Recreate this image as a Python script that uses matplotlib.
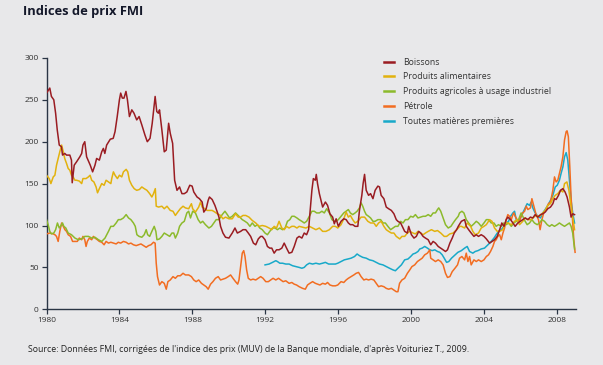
import matplotlib
matplotlib.use("Agg")
import matplotlib.pyplot as plt

# ---------------- data ----------------
boissons_x = [1980.0, 1980.18, 1980.27, 1980.4, 1980.5, 1980.59, 1980.7, 1980.82, 1980.88, 1981.0, 1981.1, 1981.28,
              1981.37, 1981.41, 1981.52, 1981.65, 1981.83, 1981.93, 1982.0, 1982.1, 1982.2, 1982.4, 1982.53, 1982.66,
              1982.75, 1982.9, 1983.03, 1983.12, 1983.2, 1983.3, 1983.5, 1983.66, 1983.76, 1983.88, 1984.0, 1984.07,
              1984.16, 1984.25, 1984.36, 1984.44, 1984.55, 1984.68, 1984.8, 1984.95, 1985.08, 1985.23, 1985.4, 1985.53,
              1985.68, 1985.8, 1985.96, 1986.05, 1986.14, 1986.2, 1986.33, 1986.46, 1986.57, 1986.7, 1986.79, 1986.92,
              1987.03, 1987.16, 1987.3, 1987.43, 1987.56, 1987.7, 1987.86, 1987.99, 1988.08, 1988.26, 1988.39, 1988.54,
              1988.63, 1988.76, 1988.87, 1988.94, 1989.09, 1989.24, 1989.37, 1989.46, 1989.55, 1989.68, 1989.82, 1990.01,
              1990.19, 1990.34, 1990.47, 1990.65, 1990.78, 1990.93, 1991.07, 1991.2, 1991.35, 1991.48, 1991.62, 1991.75,
              1991.84, 1991.99, 1992.12, 1992.25, 1992.36, 1992.49, 1992.62, 1992.76, 1992.91, 1993.04, 1993.17, 1993.31,
              1993.46, 1993.59, 1993.74, 1993.86, 1994.01, 1994.14, 1994.27, 1994.38, 1994.45, 1994.56, 1994.64, 1994.75,
              1994.8, 1994.87, 1994.97, 1995.06, 1995.15, 1995.3, 1995.42, 1995.55, 1995.7, 1995.79, 1995.89, 1996.01,
              1996.16, 1996.31, 1996.44, 1996.56, 1996.67, 1996.8, 1996.93, 1997.08, 1997.17, 1997.3, 1997.37, 1997.45,
              1997.54, 1997.67, 1997.78, 1997.91, 1998.03, 1998.18, 1998.27, 1998.36, 1998.51, 1998.64, 1998.77, 1998.92,
              1999.06, 1999.19, 1999.28, 1999.43, 1999.56, 1999.65, 1999.8, 1999.87, 2000.02, 2000.16, 2000.29, 2000.42,
              2000.53, 2000.66, 2000.79, 2000.94, 2001.08, 2001.21, 2001.34, 2001.49, 2001.63, 2001.76, 2001.89, 2002.0,
              2002.13, 2002.26, 2002.37, 2002.5, 2002.59, 2002.76, 2002.94, 2003.03, 2003.16, 2003.3, 2003.45, 2003.58,
              2003.7, 2003.85, 2004.0, 2004.13, 2004.31, 2004.44, 2004.58, 2004.73, 2004.86, 2004.98, 2005.1, 2005.22,
              2005.31, 2005.46, 2005.59, 2005.71, 2005.86, 2006.0, 2006.13, 2006.26, 2006.41, 2006.55, 2006.68, 2006.81,
              2006.96, 2007.1, 2007.23, 2007.36, 2007.5, 2007.65, 2007.78, 2007.87, 2007.96, 2008.09, 2008.2, 2008.33,
              2008.45, 2008.56, 2008.69, 2008.78, 2008.87, 2008.97]
boissons_y = [258, 264, 254, 250, 234, 214, 196, 194, 184, 186, 184, 184,
              178, 151, 172, 176, 182, 186, 196, 200, 182, 172, 164, 172,
              180, 178, 188, 192, 186, 196, 203, 204, 212, 230, 250, 258,
              252, 252, 260, 250, 230, 238, 234, 226, 230, 220, 208, 200,
              204, 222, 254, 236, 234, 238, 214, 188, 190, 222, 210, 198,
              154, 142, 146, 138, 138, 140, 148, 147, 140, 134, 132, 128,
              116, 120, 130, 134, 131, 124, 116, 110, 99, 91, 86, 85,
              91, 97, 91, 93, 95, 95, 91, 87, 79, 77, 84, 87,
              87, 83, 75, 73, 73, 67, 71, 71, 73, 79, 73, 67,
              68, 75, 85, 87, 85, 91, 89, 95, 114, 142, 156, 154,
              161, 150, 138, 130, 122, 128, 124, 114, 110, 102, 108, 99,
              105, 108, 107, 103, 101, 101, 99, 99, 118, 136, 150, 161,
              142, 136, 138, 132, 142, 147, 146, 136, 132, 122, 120, 118,
              114, 107, 105, 103, 97, 93, 91, 99, 89, 85, 87, 93,
              91, 87, 85, 83, 77, 81, 79, 75, 73, 71, 69, 71,
              79, 85, 91, 95, 99, 105, 107, 99, 95, 91, 87, 89,
              87, 89, 87, 84, 79, 81, 83, 87, 95, 103, 99, 107,
              110, 107, 103, 99, 103, 105, 107, 109, 107, 110, 109, 113,
              110, 113, 114, 116, 120, 122, 126, 132, 131, 136, 142, 144,
              140, 134, 122, 110, 114, 113]

alim_x = [1980.0, 1980.15, 1980.24, 1980.37, 1980.46, 1980.55, 1980.64, 1980.73, 1980.83, 1980.92, 1981.0, 1981.1,
          1981.19, 1981.28, 1981.37, 1981.46, 1981.56, 1981.65, 1981.8, 1981.93, 1982.0, 1982.17, 1982.3, 1982.39,
          1982.48, 1982.6, 1982.72, 1982.8, 1982.9, 1983.03, 1983.16, 1983.27, 1983.4, 1983.53, 1983.58, 1983.67,
          1983.76, 1983.89, 1984.0, 1984.13, 1984.22, 1984.37, 1984.46, 1984.55, 1984.68, 1984.81, 1984.95, 1985.1,
          1985.23, 1985.36, 1985.51, 1985.66, 1985.78, 1985.87, 1985.97, 1986.02, 1986.15, 1986.33, 1986.46, 1986.61,
          1986.79, 1986.94, 1987.07, 1987.2, 1987.34, 1987.49, 1987.62, 1987.8, 1987.95, 1988.02, 1988.17, 1988.35,
          1988.45, 1988.54, 1988.69, 1988.81, 1988.94, 1989.09, 1989.24, 1989.37, 1989.55, 1989.68, 1989.82, 1990.01,
          1990.19, 1990.37, 1990.52, 1990.65, 1990.78, 1990.93, 1991.11, 1991.29, 1991.48, 1991.66, 1991.84, 1992.03,
          1992.21, 1992.36, 1992.49, 1992.62, 1992.76, 1992.91, 1993.04, 1993.17, 1993.31, 1993.46, 1993.59, 1993.74,
          1993.86, 1994.05, 1994.23, 1994.42, 1994.6, 1994.78, 1994.97, 1995.15, 1995.33, 1995.52, 1995.7, 1995.85,
          1995.98, 1996.16, 1996.31, 1996.44, 1996.56, 1996.67, 1996.8, 1996.93, 1997.08, 1997.26, 1997.45, 1997.63,
          1997.78, 1997.96, 1998.09, 1998.22, 1998.36, 1998.51, 1998.64, 1998.77, 1998.92, 1999.06, 1999.19, 1999.38,
          1999.5, 1999.65, 1999.8, 1999.93, 2000.11, 2000.24, 2000.38, 2000.53, 2000.66, 2000.79, 2000.94, 2001.12,
          2001.3, 2001.45, 2001.63, 2001.82, 2001.95, 2002.13, 2002.31, 2002.5, 2002.68, 2002.76, 2002.94, 2003.08,
          2003.27, 2003.39, 2003.52, 2003.7, 2003.85, 2004.0, 2004.13, 2004.31, 2004.44, 2004.58, 2004.73, 2004.86,
          2005.04, 2005.17, 2005.31, 2005.5, 2005.68, 2005.82, 2005.95, 2006.13, 2006.26, 2006.41, 2006.59, 2006.74,
          2006.86, 2007.05, 2007.18, 2007.36, 2007.5, 2007.65, 2007.78, 2007.91, 2008.05, 2008.2, 2008.33, 2008.42,
          2008.55, 2008.66, 2008.78, 2008.87, 2008.97]
alim_y = [160, 156, 150, 158, 160, 172, 180, 188, 196, 188, 180, 174,
          168, 166, 160, 158, 154, 154, 153, 150, 156, 156, 158, 160,
          154, 152, 146, 139, 144, 150, 148, 154, 152, 150, 156, 164,
          160, 156, 160, 158, 164, 167, 164, 154, 148, 144, 142, 143,
          146, 144, 142, 138, 134, 138, 144, 123, 122, 123, 120, 123,
          118, 117, 112, 116, 120, 123, 121, 120, 126, 120, 116, 122,
          128, 122, 120, 118, 118, 118, 116, 114, 112, 108, 110, 108,
          108, 114, 110, 110, 112, 112, 110, 106, 103, 99, 100, 99,
          97, 95, 99, 97, 105, 97, 95, 99, 97, 99, 99, 97,
          99, 98, 97, 99, 97, 95, 97, 93, 93, 95, 99, 99,
          97, 101, 108, 116, 110, 112, 107, 103, 105, 110, 110, 105,
          103, 103, 99, 103, 105, 99, 95, 93, 91, 91, 87, 84,
          87, 87, 91, 93, 91, 90, 93, 91, 89, 91, 93, 95,
          93, 94, 91, 87, 87, 90, 91, 95, 99, 99, 97, 103,
          99, 93, 89, 91, 97, 99, 101, 107, 105, 97, 93, 93,
          95, 103, 103, 101, 105, 107, 101, 105, 109, 107, 107, 110,
          112, 111, 114, 118, 124, 126, 132, 136, 138, 142, 140, 150,
          152, 142, 122, 110, 95]

agri_x = [1980.0, 1980.09, 1980.18, 1980.27, 1980.4, 1980.5, 1980.6, 1980.7, 1980.77, 1980.88, 1980.95, 1981.06,
          1981.19, 1981.37, 1981.56, 1981.75, 1981.93, 1982.1, 1982.3, 1982.48, 1982.66, 1982.85, 1983.03, 1983.21,
          1983.4, 1983.53, 1983.67, 1983.82, 1983.94, 1984.07, 1984.22, 1984.37, 1984.5, 1984.63, 1984.77, 1984.87,
          1984.96, 1985.08, 1985.23, 1985.36, 1985.47, 1985.55, 1985.66, 1985.78, 1985.91, 1986.0, 1986.06, 1986.2,
          1986.33, 1986.46, 1986.61, 1986.76, 1986.88, 1986.98, 1987.07, 1987.2, 1987.3, 1987.43, 1987.56, 1987.7,
          1987.8, 1987.9, 1988.02, 1988.17, 1988.32, 1988.45, 1988.57, 1988.72, 1988.91, 1989.05, 1989.18, 1989.31,
          1989.46, 1989.64, 1989.79, 1989.92, 1990.04, 1990.19, 1990.37, 1990.56, 1990.74, 1990.89, 1991.02, 1991.16,
          1991.29, 1991.44, 1991.57, 1991.7, 1991.84, 1991.99, 1992.12, 1992.25, 1992.4, 1992.54, 1992.67, 1992.8,
          1992.95, 1993.09, 1993.22, 1993.35, 1993.46, 1993.59, 1993.74, 1993.86, 1994.01, 1994.14, 1994.27, 1994.42,
          1994.56, 1994.69, 1994.82, 1994.97, 1995.11, 1995.24, 1995.37, 1995.52, 1995.66, 1995.79, 1995.89, 1996.01,
          1996.16, 1996.31, 1996.44, 1996.56, 1996.67, 1996.8, 1996.93, 1997.04, 1997.17, 1997.26, 1997.35, 1997.45,
          1997.54, 1997.67, 1997.78, 1997.91, 1998.03, 1998.18, 1998.33, 1998.46, 1998.59, 1998.73, 1998.88, 1999.01,
          1999.14, 1999.28, 1999.43, 1999.56, 1999.69, 1999.83, 1999.98, 2000.11, 2000.24, 2000.38, 2000.53, 2000.66,
          2000.79, 2000.94, 2001.08, 2001.21, 2001.34, 2001.45, 2001.52, 2001.63, 2001.76, 2001.89, 2002.04, 2002.19,
          2002.31, 2002.44, 2002.59, 2002.66, 2002.79, 2002.9, 2003.03, 2003.16, 2003.3, 2003.45, 2003.58, 2003.7,
          2003.85, 2004.0, 2004.13, 2004.25, 2004.4, 2004.55, 2004.67, 2004.8, 2004.95, 2005.09, 2005.22, 2005.35,
          2005.5, 2005.64, 2005.77, 2005.9, 2006.04, 2006.13, 2006.26, 2006.37, 2006.5, 2006.63, 2006.77, 2006.92,
          2007.05, 2007.18, 2007.32, 2007.47, 2007.6, 2007.72, 2007.87, 2008.02, 2008.14, 2008.27, 2008.42, 2008.56,
          2008.69, 2008.78, 2008.87, 2008.97]
agri_y = [107, 101, 93, 90, 91, 95, 103, 97, 99, 103, 99, 97,
          91, 89, 85, 83, 84, 87, 87, 85, 86, 83, 81, 85,
          93, 99, 99, 103, 107, 107, 109, 113, 109, 107, 103, 99,
          89, 87, 86, 89, 95, 89, 87, 93, 99, 93, 83, 84,
          87, 91, 89, 87, 91, 91, 85, 91, 99, 103, 105, 115,
          117, 109, 117, 115, 107, 103, 105, 101, 97, 99, 103, 107,
          107, 113, 117, 113, 109, 111, 115, 111, 107, 105, 103, 99,
          103, 99, 101, 97, 95, 91, 89, 93, 97, 97, 95, 97,
          95, 97, 105, 107, 111, 111, 109, 107, 105, 103, 105, 111,
          117, 117, 115, 115, 117, 115, 120, 115, 107, 105, 105, 107,
          111, 115, 117, 119, 115, 113, 115, 117, 121, 127, 123, 117,
          113, 111, 109, 105, 105, 107, 107, 103, 103, 99, 95, 97,
          99, 99, 105, 103, 107, 107, 111, 110, 113, 109, 110, 111,
          111, 113, 111, 115, 115, 119, 121, 117, 109, 101, 97, 99,
          103, 107, 111, 115, 117, 115, 107, 103, 99, 102, 105, 103,
          99, 103, 107, 107, 103, 103, 99, 101, 99, 103, 101, 103,
          99, 103, 105, 107, 115, 111, 105, 101, 103, 107, 103, 101,
          103, 107, 105, 101, 99, 101, 99, 101, 103, 101, 99, 101,
          103, 99, 91, 72]

petrole_x = [1980.0, 1980.18, 1980.37, 1980.46, 1980.55, 1980.64, 1980.73, 1980.83, 1980.92, 1981.01, 1981.1, 1981.19,
             1981.32, 1981.43, 1981.56, 1981.69, 1981.8, 1981.93, 1982.0, 1982.1, 1982.17, 1982.24, 1982.35, 1982.48,
             1982.57, 1982.66, 1982.79, 1982.9, 1983.03, 1983.16, 1983.27, 1983.4, 1983.53, 1983.67, 1983.82, 1983.94,
             1984.07, 1984.22, 1984.37, 1984.5, 1984.63, 1984.77, 1984.92, 1985.05, 1985.18, 1985.32, 1985.47, 1985.6,
             1985.73, 1985.87, 1985.96, 1986.02, 1986.09, 1986.2, 1986.33, 1986.46, 1986.57, 1986.66, 1986.79, 1986.94,
             1987.07, 1987.2, 1987.34, 1987.49, 1987.62, 1987.8, 1987.95, 1988.08, 1988.21, 1988.35, 1988.5, 1988.63,
             1988.76, 1988.87, 1989.0, 1989.13, 1989.27, 1989.42, 1989.55, 1989.68, 1989.82, 1989.97, 1990.1, 1990.23,
             1990.37, 1990.49, 1990.56, 1990.65, 1990.74, 1990.82, 1990.89, 1990.98, 1991.07, 1991.2, 1991.33, 1991.48,
             1991.62, 1991.75, 1991.88, 1992.03, 1992.17, 1992.3, 1992.43, 1992.58, 1992.73, 1992.85, 1992.98, 1993.13,
             1993.31, 1993.46, 1993.59, 1993.72, 1993.86, 1994.05, 1994.2, 1994.32, 1994.45, 1994.6, 1994.75, 1994.87,
             1995.0, 1995.15, 1995.3, 1995.42, 1995.55, 1995.7, 1995.85, 1995.98, 1996.16, 1996.31, 1996.44, 1996.56,
             1996.71, 1996.86, 1996.99, 1997.12, 1997.26, 1997.41, 1997.54, 1997.67, 1997.81, 1997.96, 1998.09, 1998.22,
             1998.36, 1998.51, 1998.64, 1998.77, 1998.92, 1999.06, 1999.19, 1999.28, 1999.37, 1999.5, 1999.65, 1999.8,
             1999.93, 2000.05, 2000.2, 2000.35, 2000.48, 2000.61, 2000.75, 2000.9, 2001.03, 2001.08, 2001.21, 2001.34,
             2001.49, 2001.63, 2001.76, 2001.89, 2002.0, 2002.13, 2002.26, 2002.41, 2002.55, 2002.66, 2002.79, 2002.94,
             2003.03, 2003.12, 2003.21, 2003.3, 2003.45, 2003.58, 2003.7, 2003.85, 2004.0, 2004.13, 2004.25, 2004.36,
             2004.49, 2004.58, 2004.67, 2004.76, 2004.86, 2004.95, 2005.04, 2005.13, 2005.22, 2005.31, 2005.4, 2005.5,
             2005.59, 2005.64, 2005.71, 2005.82, 2005.95, 2006.04, 2006.13, 2006.23, 2006.32, 2006.41, 2006.55, 2006.63,
             2006.74, 2006.86, 2006.99, 2007.08, 2007.18, 2007.28, 2007.41, 2007.54, 2007.65, 2007.78, 2007.87, 2007.96,
             2008.05, 2008.14, 2008.23, 2008.33, 2008.42, 2008.51, 2008.56, 2008.63, 2008.71, 2008.78, 2008.86, 2008.93,
             2009.0]
petrole_y = [90, 91, 90, 89, 87, 81, 93, 103, 99, 95, 93, 89,
             87, 81, 81, 81, 85, 83, 87, 83, 75, 81, 85, 83,
             87, 85, 83, 81, 80, 77, 81, 79, 80, 79, 78, 80,
             79, 81, 80, 78, 79, 77, 76, 77, 78, 76, 74, 76,
             77, 80, 79, 55, 39, 29, 33, 31, 24, 33, 35, 39,
             37, 40, 40, 43, 41, 41, 39, 35, 33, 35, 31, 29,
             27, 24, 30, 33, 37, 39, 35, 36, 37, 39, 41, 37,
             33, 30, 35, 51, 67, 70, 63, 47, 37, 35, 36, 35,
             37, 39, 37, 33, 33, 35, 37, 35, 37, 35, 33, 34,
             31, 32, 30, 29, 27, 25, 24, 29, 31, 33, 31, 30,
             29, 31, 30, 32, 29, 28, 28, 29, 33, 32, 35, 37,
             39, 41, 43, 44, 39, 35, 36, 35, 36, 35, 31, 27,
             28, 27, 25, 24, 25, 23, 21, 21, 31, 35, 37, 43,
             47, 51, 53, 57, 59, 61, 65, 67, 71, 61, 59, 57,
             59, 57, 53, 43, 38, 39, 45, 49, 53, 61, 63, 59,
             67, 57, 63, 53, 59, 57, 59, 57, 59, 63, 65, 69,
             75, 81, 83, 87, 89, 83, 91, 97, 107, 113, 111, 107,
             113, 115, 111, 107, 105, 111, 115, 117, 123, 119, 121, 132,
             123, 113, 107, 95, 107, 115, 119, 126, 128, 142, 158, 152,
             154, 162, 170, 182, 202, 212, 213, 206, 170, 134, 107, 83,
             68]

toutes_x = [1991.99, 1992.21, 1992.4, 1992.58, 1992.67, 1992.8, 1992.95, 1993.13, 1993.31, 1993.5, 1993.68, 1993.86,
            1994.01, 1994.14, 1994.27, 1994.42, 1994.6, 1994.78, 1994.97, 1995.15, 1995.3, 1995.48, 1995.7, 1995.85,
            1995.98, 1996.16, 1996.34, 1996.53, 1996.71, 1996.9, 1997.04, 1997.17, 1997.35, 1997.54, 1997.72, 1997.91,
            1998.09, 1998.27, 1998.46, 1998.64, 1998.82, 1999.01, 1999.14, 1999.28, 1999.47, 1999.65, 1999.83, 1999.98,
            2000.11, 2000.24, 2000.38, 2000.48, 2000.61, 2000.75, 2000.9, 2001.03, 2001.16, 2001.3, 2001.45, 2001.58,
            2001.71, 2001.82, 2001.95, 2002.07, 2002.22, 2002.37, 2002.57, 2002.76, 2002.94, 2003.08, 2003.21, 2003.39,
            2003.52, 2003.67, 2003.85, 2004.03, 2004.22, 2004.4, 2004.55, 2004.67, 2004.8, 2004.95, 2005.09, 2005.22,
            2005.35, 2005.46, 2005.59, 2005.68, 2005.77, 2005.9, 2006.0, 2006.13, 2006.26, 2006.37, 2006.5, 2006.59,
            2006.68, 2006.81, 2006.96, 2007.1, 2007.23, 2007.36, 2007.5, 2007.65, 2007.78, 2007.91, 2008.02, 2008.14,
            2008.23, 2008.33, 2008.42, 2008.51, 2008.6, 2008.69, 2008.78, 2008.87, 2008.97]
toutes_y = [53, 54, 56, 58, 57, 55, 55, 54, 54, 52, 51, 50,
            49, 50, 53, 55, 54, 55, 54, 55, 56, 54, 54, 54,
            55, 57, 59, 60, 61, 63, 66, 64, 62, 61, 59, 58,
            56, 54, 53, 51, 49, 47, 46, 49, 53, 59, 60, 63,
            66, 67, 69, 72, 73, 75, 73, 71, 70, 71, 69, 68,
            65, 61, 56, 57, 61, 64, 68, 70, 73, 75, 69, 67,
            69, 70, 72, 73, 77, 81, 85, 89, 93, 95, 99, 103,
            105, 111, 115, 117, 107, 105, 109, 115, 121, 126, 124, 128,
            121, 115, 111, 109, 115, 119, 124, 130, 136, 146, 148, 154,
            162, 170, 182, 187, 178, 154, 130, 115, 103]

series_labels = ["Boissons", "Produits alimentaires", "Produits agricoles à usage industriel",
                 "Pétrole", "Toutes matières premières"]
series_colors = ["#9a1c22", "#e2b20e", "#8cba2c", "#f26d21", "#18a9c9"]
x_ticks = [1980, 1984, 1988, 1992, 1996, 2000, 2004, 2008]
y_ticks = [0, 50, 100, 150, 200, 250, 300]

title = "Indices de prix FMI"
source = ("Source: Données FMI, corrigées de l'indice des prix (MUV) de la Banque mondiale, "
          "d'après Voituriez T., 2009.")

# ---------------- figure ----------------
plt.rcParams['font.family'] = ['Open Sans', 'DejaVu Sans']
bg = "#e8e8ea"
ink = "#2a3545"

fig = plt.figure(figsize=(6.03, 3.65), dpi=100, facecolor=bg)
ax = fig.add_axes([46.5 / 603, 55.7 / 365, (576 - 46.5) / 603, 251.4 / 365], facecolor=bg)

data = [(boissons_x, boissons_y), (alim_x, alim_y), (agri_x, agri_y),
        (petrole_x, petrole_y), (toutes_x, toutes_y)]
zorders = [6, 5, 4, 3, 2]
handles = []
for (xs, ys), lab, col, z in zip(data, series_labels, series_colors, zorders):
    h, = ax.plot(xs, ys, color=col, lw=1.1, label=lab, zorder=z, solid_joinstyle="round")
    handles.append(h)

ax.set_xlim(1980, 2009.05)
ax.set_ylim(0, 300)
ax.set_xticks(x_ticks)
ax.set_yticks(y_ticks)
for s in ["top", "right"]:
    ax.spines[s].set_visible(False)
for s in ["left", "bottom"]:
    ax.spines[s].set_color(ink)
    ax.spines[s].set_linewidth(1.0)
ax.tick_params(axis="both", direction="out", length=3.5, width=0.9, color=ink,
               labelsize=6, labelcolor="#333333", pad=2)
ax.spines["left"].set_bounds(0, 300)

leg = ax.legend(handles=handles, loc="upper left", bbox_to_anchor=(0.63, 1.015),
                frameon=False, fontsize=6.3, handlelength=1.2, handletextpad=1.0,
                labelspacing=0.66, borderaxespad=0)
for t in leg.get_texts():
    t.set_color("#333333")
for l in leg.get_lines():
    l.set_linewidth(1.8)

fig.text(23 / 603, 1 - 12 / 365, title, fontsize=9.3, fontweight="bold", color="#14182a",
         ha="left", va="center")
fig.text(28 / 603, 1 - 350 / 365, source, fontsize=6.35, color="#222222", ha="left", va="center")

fig.savefig("out.png", dpi=100, facecolor=bg)
